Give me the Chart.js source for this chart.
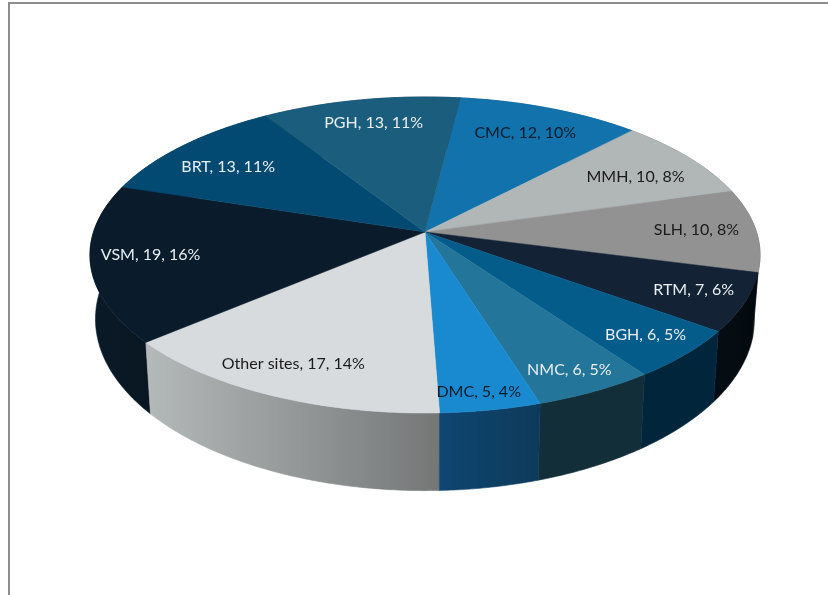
<!DOCTYPE html>
<html>
<head>
<meta charset="utf-8">
<title>Sites</title>
<script src="https://cdn.jsdelivr.net/npm/chart.js@4"></script>
<style>
  html, body { margin: 0; padding: 0; background: #fff; overflow: hidden; }
  #frame { position: absolute; left: 8px; top: 2px; width: 822px; height: 595px; border-left: 2px solid #8c8c8c; border-top: 2px solid #8c8c8c; }
  #pie { position: absolute; left: 0; top: 0; }
</style>
</head>
<body>
<div id="frame"></div>
<canvas id="pie" width="828" height="595"></canvas>
<script>
const siteNames = ["CMC", "MMH", "SLH", "RTM", "BGH", "NMC", "DMC", "Other sites", "VSM", "BRT", "PGH"];
const siteCounts = [12, 10, 10, 7, 6, 6, 5, 17, 19, 13, 13];
const sitePercents = [10, 8, 8, 6, 5, 5, 4, 14, 16, 11, 11];

const topColors = ["#1272AB", "#B0B7B6", "#929292", "#132235", "#045C8A", "#23759A", "#1A8AD0", "#D7DBDE", "#0A1C2C", "#034A72", "#1A5D7D"];
const wallLeft = ["#0C4F78", "#7B807F", "#666666", "#050D14", "#01263C", "#122E38", "#0F4672", "#B4BAB9", "#0A1A27", "#023350", "#124158"];
const wallRight = ["#0C4F78", "#7B807F", "#666666", "#03090E", "#01263C", "#122E38", "#0D3A5A", "#757777", "#091722", "#023350", "#124158"];
const labelColors = ["#0B1B2B", "#1A1A1A", "#1A1A1A", "#E8EEF2", "#E8EEF2", "#E8EEF2", "#0B1B2B", "#1A1A1A", "#E8EEF2", "#E8EEF2", "#E8EEF2"];
// how far out along its slice each label sits, 1 = on the rim
const labelRadius = [0.78, 0.76, 0.82, 0.84, 0.865, 0.875, 0.9, 0.85, 0.82, 0.78, 0.8];
// small hand nudges on top of that, in pixels
const labelNudgeX = [0, 6.5, 0, 3, -1.5, -2, -4.5, -3.5, -1.5, -5, 1.5];
const labelNudgeY = [0, 2, -1, -1, -1, 1, 2, -4, -3, 4, -1];

// perspective of the tilted disc, top face and bottom face
const topFace = { cx: 425, cy: 232, a: 331.5, b: 154.7, k: 0.1456 };
const bottomFace = { cx: 425, cy: 294, a: 326, b: 168, k: 0.1456 };

function project(face, angle, r) {
  const u = Math.cos(angle) * r;
  const v = Math.sin(angle) * r;
  const w = 1 - face.k * v;
  return { x: face.cx + (face.a * u) / w, y: face.cy + (face.b * v) / w };
}

function rimPoints(face, start, end) {
  const steps = Math.max(2, Math.ceil((end - start) / 0.01));
  const points = [];
  for (let i = 0; i <= steps; i++) {
    points.push(project(face, start + ((end - start) * i) / steps, 1));
  }
  return points;
}

function tracePath(ctx, points) {
  ctx.beginPath();
  points.forEach((p, i) => {
    if (i === 0) ctx.moveTo(p.x, p.y);
    else ctx.lineTo(p.x, p.y);
  });
  ctx.closePath();
}

const tiltedPie = {
  id: "tiltedPie",
  // the arcs keep the angles chart.js works out, only the drawing is tilted
  beforeDatasetDraw(chart, args) {
    const ctx = chart.ctx;
    const arcs = args.meta.data.map((arc, index) => ({ index, start: arc.startAngle, end: arc.endAngle }));

    // walls first, back to front
    const byDepth = [...arcs].sort((a, b) => Math.sin((a.start + a.end) / 2) - Math.sin((b.start + b.end) / 2));
    byDepth.forEach((arc) => {
      const upper = rimPoints(topFace, arc.start, arc.end);
      const lower = rimPoints(bottomFace, arc.start, arc.end);
      const xs = upper.map((p) => p.x);
      const gradient = ctx.createLinearGradient(Math.min(...xs), 0, Math.max(...xs), 0);
      gradient.addColorStop(0, wallLeft[arc.index]);
      gradient.addColorStop(1, wallRight[arc.index]);
      tracePath(ctx, [...upper, ...lower.reverse()]);
      ctx.fillStyle = gradient;
      ctx.strokeStyle = gradient;
      ctx.lineWidth = 0.6;
      ctx.fill();
      ctx.stroke();
    });

    arcs.forEach((arc) => {
      tracePath(ctx, [{ x: topFace.cx, y: topFace.cy }, ...rimPoints(topFace, arc.start, arc.end)]);
      ctx.fillStyle = topColors[arc.index];
      ctx.strokeStyle = topColors[arc.index];
      ctx.lineWidth = 0.5;
      ctx.fill();
      ctx.stroke();
    });

    ctx.font = "16px Lato";
    ctx.textAlign = "center";
    ctx.textBaseline = "middle";
    arcs.forEach((arc) => {
      const pos = project(topFace, (arc.start + arc.end) / 2, labelRadius[arc.index]);
      ctx.fillStyle = labelColors[arc.index];
      ctx.fillText(
        `${siteNames[arc.index]}, ${siteCounts[arc.index]}, ${sitePercents[arc.index]}%`,
        pos.x + labelNudgeX[arc.index],
        pos.y + labelNudgeY[arc.index],
      );
    });
    return false;
  },
};

new Chart(document.getElementById("pie"), {
  type: "pie",
  data: {
    labels: siteNames,
    datasets: [{ data: siteCounts, backgroundColor: topColors, borderWidth: 0 }],
  },
  options: {
    responsive: false,
    animation: false,
    rotation: 7,
    events: [],
    plugins: { legend: { display: false }, tooltip: { enabled: false } },
  },
  plugins: [tiltedPie],
});
</script>
</body>
</html>
